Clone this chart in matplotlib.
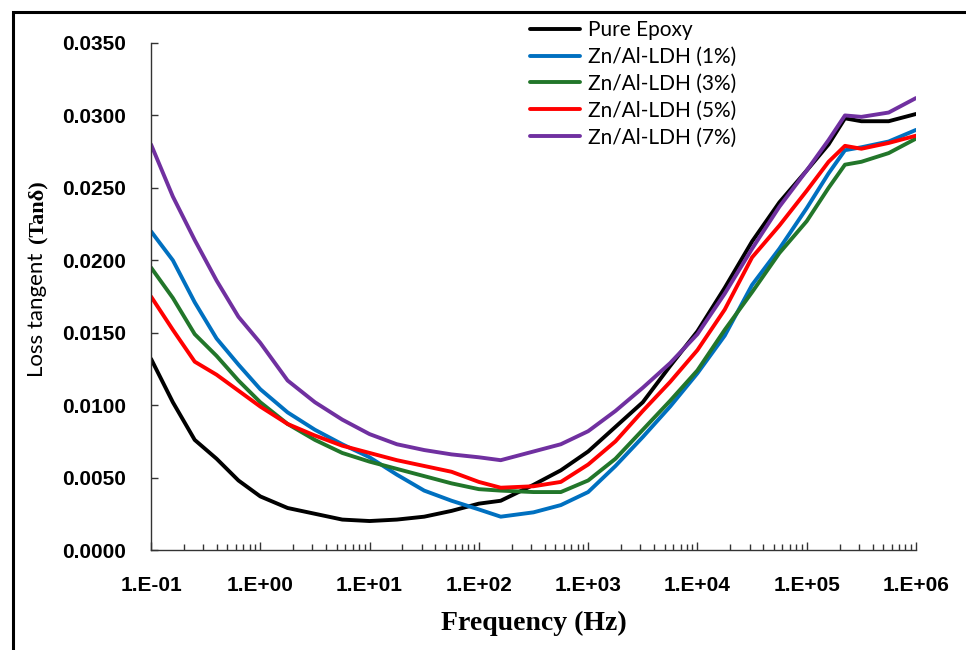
import math
import matplotlib
matplotlib.use("Agg")
import matplotlib.pyplot as plt
from matplotlib.patches import Rectangle
from matplotlib.ticker import FixedLocator, LogLocator, FuncFormatter, NullFormatter

# log10 of frequency (Hz) at which values were read
log_freq = [-1, -0.8, -0.6, -0.4, -0.2, 0, 0.25, 0.5, 0.75, 1, 1.25, 1.5, 1.75, 2,
            2.2, 2.5, 2.75, 3, 3.25, 3.5, 3.75, 4, 4.25, 4.5, 4.75, 5, 5.2, 5.35,
            5.5, 5.75, 6]
freq = [10 ** v for v in log_freq]

pure_epoxy = [0.0132, 0.0102, 0.0076, 0.0063, 0.0048, 0.0037, 0.0029, 0.0025, 0.0021,
              0.0020, 0.0021, 0.0023, 0.0027, 0.0032, 0.0034, 0.0045, 0.0055, 0.0068,
              0.0085, 0.0102, 0.0127, 0.0151, 0.0181, 0.0213, 0.0240, 0.0262, 0.0280,
              0.0298, 0.0296, 0.0296, 0.0301]
ldh_1 = [0.0220, 0.0200, 0.0171, 0.0146, 0.0128, 0.0111, 0.0095, 0.0083, 0.0073,
         0.0064, 0.0052, 0.0041, 0.0034, 0.0028, 0.0023, 0.0026, 0.0031, 0.0040,
         0.0058, 0.0078, 0.0099, 0.0122, 0.0148, 0.0183, 0.0208, 0.0236, 0.0260,
         0.0276, 0.0278, 0.0282, 0.0290]
ldh_3 = [0.0195, 0.0174, 0.0149, 0.0134, 0.0117, 0.0102, 0.0087, 0.0076, 0.0067,
         0.0061, 0.0056, 0.0051, 0.0046, 0.0042, 0.0041, 0.0040, 0.0040, 0.0048,
         0.0063, 0.0083, 0.0103, 0.0124, 0.0152, 0.0178, 0.0205, 0.0227, 0.0250,
         0.0266, 0.0268, 0.0274, 0.0284]
ldh_5 = [0.0175, 0.0152, 0.0130, 0.0121, 0.0110, 0.0099, 0.0087, 0.0079, 0.0072,
         0.0067, 0.0062, 0.0058, 0.0054, 0.0047, 0.0043, 0.0044, 0.0047, 0.0059,
         0.0075, 0.0096, 0.0116, 0.0138, 0.0166, 0.0202, 0.0224, 0.0248, 0.0268,
         0.0279, 0.0277, 0.0281, 0.0286]
ldh_7 = [0.0280, 0.0244, 0.0214, 0.0186, 0.0161, 0.0143, 0.0117, 0.0102, 0.0090,
         0.0080, 0.0073, 0.0069, 0.0066, 0.0064, 0.0062, 0.0068, 0.0073, 0.0082,
         0.0096, 0.0112, 0.0129, 0.0149, 0.0177, 0.0208, 0.0237, 0.0262, 0.0283,
         0.0300, 0.0299, 0.0302, 0.0312]

series = [
    ("Pure Epoxy", pure_epoxy, "#000000"),
    ("Zn/Al-LDH (1%)", ldh_1, "#0070C0"),
    ("Zn/Al-LDH (3%)", ldh_3, "#22762a"),
    ("Zn/Al-LDH (5%)", ldh_5, "#FF0000"),
    ("Zn/Al-LDH (7%)", ldh_7, "#7030A0"),
]
y_ticks = [0.0, 0.005, 0.010, 0.015, 0.020, 0.025, 0.030, 0.035]

fig = plt.figure(figsize=(9.66, 6.5), dpi=100)
ax = fig.add_axes([151 / 966, 1 - 550 / 650, (916 - 151) / 966, (550 - 43) / 650])

lines = []
for label, vals, color in series:
    ln, = ax.plot(freq, vals, color=color, linewidth=2.8, label=label,
                  solid_joinstyle="round", solid_capstyle="round")
    lines.append(ln)

ax.set_xscale("log")
ax.set_xlim(0.1, 1e6)
ax.set_ylim(0, 0.035)

ax.xaxis.set_major_locator(LogLocator(base=10, numticks=20))
ax.xaxis.set_minor_locator(LogLocator(base=10, subs=range(2, 10), numticks=20))
ax.xaxis.set_minor_formatter(NullFormatter())
ax.xaxis.set_major_formatter(FuncFormatter(
    lambda v, p: f"1.E{int(round(math.log10(v))):+03d}"))
ax.yaxis.set_major_locator(FixedLocator(y_ticks))
ax.yaxis.set_major_formatter(FuncFormatter(lambda v, p: f"{v:.4f}"))

for s in ["top", "right"]:
    ax.spines[s].set_visible(False)
for s in ["left", "bottom"]:
    ax.spines[s].set_linewidth(1.0)
    ax.spines[s].set_color("#333333")

ax.tick_params(axis="both", which="both", direction="in", color="#333333")
ax.tick_params(axis="x", which="major", length=6, width=1, pad=19)
ax.tick_params(axis="x", which="minor", length=4, width=1)
ax.tick_params(axis="y", which="major", length=5, width=1, pad=18)
for lbl in ax.get_xticklabels() + ax.get_yticklabels():
    lbl.set_fontfamily("Liberation Sans")
    lbl.set_fontweight("bold")
    lbl.set_fontsize(15)

ax.set_xlabel("Frequency (Hz)", family="Liberation Serif", fontweight="bold",
              fontsize=20, labelpad=11)

fig.text(37 / 966, 1 - 315 / 650, "Loss tangent", rotation=90, family="Lato",
         fontsize=16, ha="center", va="center")
fig.text(37 / 966, 1 - 212 / 650, "(Tan\u03b4)", rotation=90,
         family="Liberation Serif", fontweight="bold", fontsize=16,
         ha="center", va="center")

fig.legend(handles=lines, loc="upper left", bbox_to_anchor=(530 / 966, 1 - 20 / 650),
           bbox_transform=fig.transFigure, frameon=False, borderpad=0,
           borderaxespad=0, handlelength=2.4, handletextpad=0.38,
           labelspacing=0.33, prop={"family": "Lato", "size": 15})

# frame around the picture, running off the right and bottom edges
fig.patches.append(Rectangle((13 / 966, -0.2), 1.3, 1.2 - 12 / 650,
                             transform=fig.transFigure, fill=False,
                             edgecolor="black", linewidth=2.2, clip_on=False))

fig.savefig("out.png", dpi=100, facecolor="white")
